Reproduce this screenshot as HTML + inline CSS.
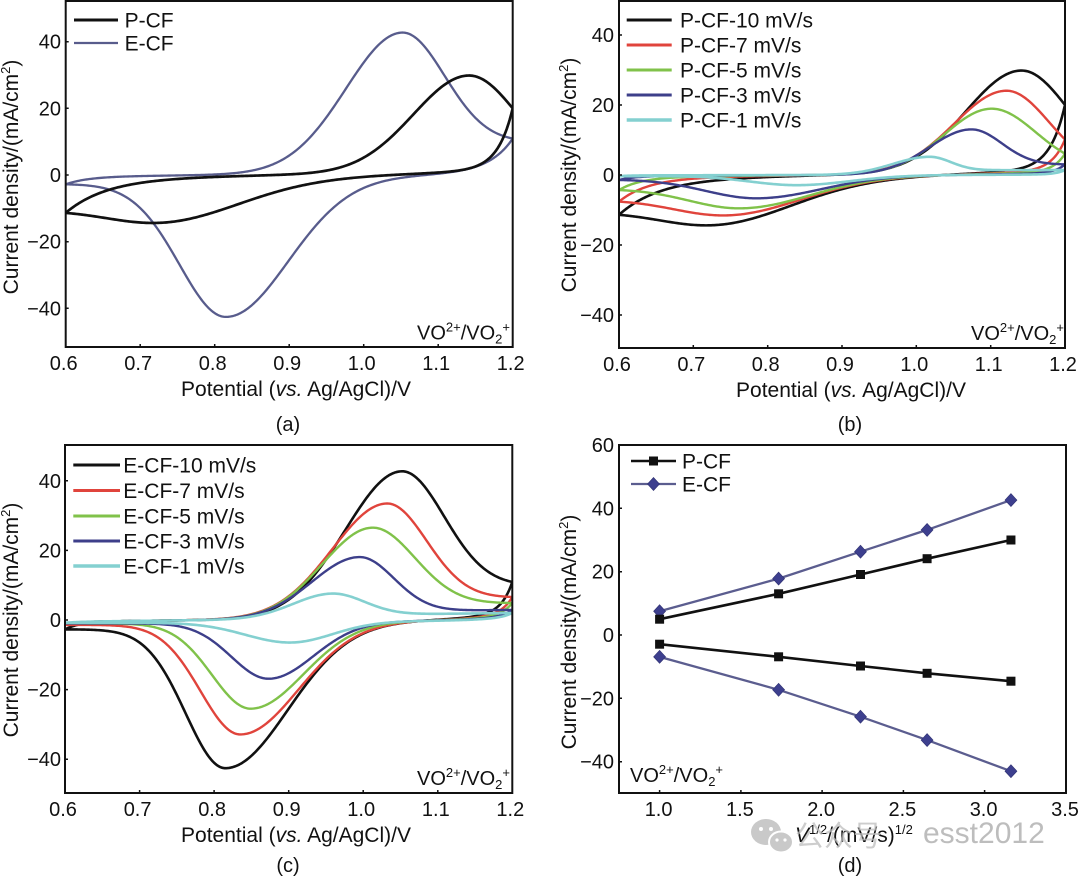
<!DOCTYPE html>
<html><head><meta charset="utf-8">
<style>
html,body{margin:0;padding:0;background:#fff;}
body{width:1080px;height:877px;overflow:hidden;}
svg{display:block;}
text{font-family:"Liberation Sans",Arial,sans-serif;fill:#111;}
</style></head>
<body>
<svg id="s" width="1080" height="877" viewBox="0 0 1080 877" xmlns="http://www.w3.org/2000/svg">
<defs>
<clipPath id="clA"><rect x="65.7" y="0" width="447" height="347"/></clipPath>
<clipPath id="clB"><rect x="619" y="0" width="446" height="348"/></clipPath>
<clipPath id="clC"><rect x="65" y="445" width="447.3" height="348"/></clipPath>
<rect id="sq" x="-4.5" y="-4.5" width="9" height="9" fill="#111"/>
<path id="dm" d="M0,-6.5 L6,0 L0,6.5 L-6,0Z" fill="#3d3f8e" stroke="#2e3070" stroke-width="0.6"/>
</defs>
<rect width="1080" height="877" fill="#fff"/>

<!-- ============ PANEL A ============ -->
<g clip-path="url(#clA)" fill="none" stroke-linejoin="round">
<path id="a1" stroke="#585c8c" stroke-width="2.3"/>
<path id="a0" stroke="#111" stroke-width="2.7"/>
</g>
<rect x="65.7" y="1" width="447" height="346" fill="none" stroke="#111" stroke-width="2"/>
<g stroke="#111" stroke-width="1.5">
<path d="M140.2,347v-3M214.7,347v-3M289.2,347v-3M363.7,347v-3M438.2,347v-3"/>
<path d="M65.7,41.7h3M65.7,108.3h3M65.7,175h3M65.7,241.7h3M65.7,308.3h3"/>
</g>
<g font-size="20" text-anchor="end">
<text x="61" y="48.7">40</text><text x="61" y="115.3">20</text><text x="61" y="182">0</text>
<text x="61" y="248.7">−20</text><text x="61" y="315.3">−40</text>
</g>
<g font-size="20" text-anchor="middle">
<text x="63.7" y="370">0.6</text><text x="138.2" y="370">0.7</text><text x="212.7" y="370">0.8</text>
<text x="287.2" y="370">0.9</text><text x="361.7" y="370">1.0</text><text x="436.2" y="370">1.1</text><text x="510.7" y="370">1.2</text>
</g>
<text x="296" y="396" font-size="21" text-anchor="middle">Potential (<tspan font-style="italic">vs.</tspan> Ag/AgCl)/V</text>
<text x="288" y="431" font-size="20" text-anchor="middle">(a)</text>
<text transform="translate(18,177) rotate(-90)" font-size="21" text-anchor="middle">Current density/(mA/cm<tspan dy="-8" font-size="13">2</tspan><tspan dy="8">)</tspan></text>
<line x1="74" y1="20" x2="118" y2="20" stroke="#111" stroke-width="3"/>
<line x1="74" y1="43" x2="118" y2="43" stroke="#585c8c" stroke-width="2.3"/>
<g font-size="21"><text x="124.6" y="27.5">P-CF</text><text x="124.6" y="50.5">E-CF</text></g>
<text x="510" y="339.5" font-size="20" text-anchor="end">VO<tspan dy="-8" font-size="13">2+</tspan><tspan dy="8">/VO</tspan><tspan dy="4" font-size="13">2</tspan><tspan dy="-12" font-size="13">+</tspan></text>

<!-- ============ PANEL B ============ -->
<g clip-path="url(#clB)" fill="none" stroke-linejoin="round">
<path id="b0" stroke="#111" stroke-width="2.6"/>
<path id="b1" stroke="#e0443c" stroke-width="2.4"/>
<path id="b2" stroke="#80c24a" stroke-width="2.4"/>
<path id="b3" stroke="#3d3f8a" stroke-width="2.4"/>
<path id="b4" stroke="#84d0d0" stroke-width="2.6"/>
</g>
<rect x="619" y="1" width="446" height="347" fill="none" stroke="#111" stroke-width="2"/>
<g stroke="#111" stroke-width="1.5">
<path d="M693.3,348v-3M767.7,348v-3M842,348v-3M916.3,348v-3M990.7,348v-3"/>
<path d="M619,35h3M619,105h3M619,175h3M619,245h3M619,315h3"/>
</g>
<g font-size="20" text-anchor="end">
<text x="614" y="42">40</text><text x="614" y="112">20</text><text x="614" y="182">0</text>
<text x="614" y="252">−20</text><text x="614" y="322">−40</text>
</g>
<g font-size="20" text-anchor="middle">
<text x="617" y="371">0.6</text><text x="691.3" y="371">0.7</text><text x="765.7" y="371">0.8</text>
<text x="840" y="371">0.9</text><text x="914.3" y="371">1.0</text><text x="988.7" y="371">1.1</text><text x="1063" y="371">1.2</text>
</g>
<text x="851" y="397" font-size="21" text-anchor="middle">Potential (<tspan font-style="italic">vs.</tspan> Ag/AgCl)/V</text>
<text x="850" y="431" font-size="20" text-anchor="middle">(b)</text>
<text transform="translate(576,175) rotate(-90)" font-size="21" text-anchor="middle">Current density/(mA/cm<tspan dy="-8" font-size="13">2</tspan><tspan dy="8">)</tspan></text>
<g stroke-width="3">
<line x1="626.7" y1="20" x2="671.7" y2="20" stroke="#111"/>
<line x1="626.7" y1="45" x2="671.7" y2="45" stroke="#e0443c"/>
<line x1="626.7" y1="70" x2="671.7" y2="70" stroke="#80c24a"/>
<line x1="626.7" y1="95" x2="671.7" y2="95" stroke="#3d3f8a"/>
<line x1="626.7" y1="120" x2="671.7" y2="120" stroke="#84d0d0" stroke-width="3.5"/>
</g>
<g font-size="21">
<text x="680" y="27.5">P-CF-10 mV/s</text><text x="680" y="52.5">P-CF-7 mV/s</text><text x="680" y="77.5">P-CF-5 mV/s</text>
<text x="680" y="102.5">P-CF-3 mV/s</text><text x="680" y="127.5">P-CF-1 mV/s</text>
</g>
<text x="1064" y="340" font-size="20" text-anchor="end">VO<tspan dy="-8" font-size="13">2+</tspan><tspan dy="8">/VO</tspan><tspan dy="4" font-size="13">2</tspan><tspan dy="-12" font-size="13">+</tspan></text>

<!-- ============ PANEL C ============ -->
<g clip-path="url(#clC)" fill="none" stroke-linejoin="round">
<path id="c0" stroke="#111" stroke-width="2.6"/>
<path id="c1" stroke="#e0443c" stroke-width="2.4"/>
<path id="c2" stroke="#80c24a" stroke-width="2.4"/>
<path id="c3" stroke="#3d3f8a" stroke-width="2.4"/>
<path id="c4" stroke="#84d0d0" stroke-width="2.6"/>
</g>
<rect x="65" y="445" width="447.3" height="348" fill="none" stroke="#111" stroke-width="2"/>
<g stroke="#111" stroke-width="1.5">
<path d="M139.6,793v-3M214.1,793v-3M288.7,793v-3M363.2,793v-3M437.8,793v-3"/>
<path d="M65,480.8h3M65,550.4h3M65,620h3M65,689.6h3M65,759.2h3"/>
</g>
<g font-size="20" text-anchor="end">
<text x="61" y="487.8">40</text><text x="61" y="557.4">20</text><text x="61" y="627">0</text>
<text x="61" y="696.6">−20</text><text x="61" y="766.2">−40</text>
</g>
<g font-size="20" text-anchor="middle">
<text x="63" y="816">0.6</text><text x="137.6" y="816">0.7</text><text x="212.1" y="816">0.8</text>
<text x="286.7" y="816">0.9</text><text x="361.2" y="816">1.0</text><text x="435.8" y="816">1.1</text><text x="510.3" y="816">1.2</text>
</g>
<text x="296" y="842" font-size="21" text-anchor="middle">Potential (<tspan font-style="italic">vs.</tspan> Ag/AgCl)/V</text>
<text x="288" y="872" font-size="20" text-anchor="middle">(c)</text>
<text transform="translate(18,620) rotate(-90)" font-size="21" text-anchor="middle">Current density/(mA/cm<tspan dy="-8" font-size="13">2</tspan><tspan dy="8">)</tspan></text>
<g stroke-width="3">
<line x1="73.3" y1="465" x2="120" y2="465" stroke="#111"/>
<line x1="73.3" y1="490.5" x2="120" y2="490.5" stroke="#e0443c"/>
<line x1="73.3" y1="516" x2="120" y2="516" stroke="#80c24a"/>
<line x1="73.3" y1="541" x2="120" y2="541" stroke="#3d3f8a"/>
<line x1="73.3" y1="566" x2="120" y2="566" stroke="#84d0d0" stroke-width="3.5"/>
</g>
<g font-size="21">
<text x="123.3" y="472.5">E-CF-10 mV/s</text><text x="123.3" y="498">E-CF-7 mV/s</text><text x="123.3" y="523.5">E-CF-5 mV/s</text>
<text x="123.3" y="548.5">E-CF-3 mV/s</text><text x="123.3" y="573.5">E-CF-1 mV/s</text>
</g>
<text x="510" y="785" font-size="20" text-anchor="end">VO<tspan dy="-8" font-size="13">2+</tspan><tspan dy="8">/VO</tspan><tspan dy="4" font-size="13">2</tspan><tspan dy="-12" font-size="13">+</tspan></text>

<!-- ============ PANEL D ============ -->
<g fill="none" stroke-linejoin="round">
<polyline points="659.6,611.25 778.6,578.6 860.5,551.7 927.1,529.9 1010.95,500.1" stroke="#5b5d8f" stroke-width="2.3"/>
<polyline points="659.6,656.85 778.6,689.8 860.5,716.7 927.1,740.1 1010.95,771.2" stroke="#5b5d8f" stroke-width="2.3"/>
<polyline points="659.6,619.2 778.6,593.8 860.5,574.5 927.1,558.7 1010.95,540" stroke="#111" stroke-width="2.6"/>
<polyline points="659.6,644.2 778.6,656.8 860.5,666 927.1,673.3 1010.95,681.2" stroke="#111" stroke-width="2.6"/>
</g>
<use href="#dm" x="659.6" y="611.25"/><use href="#dm" x="778.6" y="578.6"/><use href="#dm" x="860.5" y="551.7"/><use href="#dm" x="927.1" y="529.9"/><use href="#dm" x="1010.95" y="500.1"/>
<use href="#dm" x="659.6" y="656.85"/><use href="#dm" x="778.6" y="689.8"/><use href="#dm" x="860.5" y="716.7"/><use href="#dm" x="927.1" y="740.1"/><use href="#dm" x="1010.95" y="771.2"/>
<use href="#sq" x="659.6" y="619.2"/><use href="#sq" x="778.6" y="593.8"/><use href="#sq" x="860.5" y="574.5"/><use href="#sq" x="927.1" y="558.7"/><use href="#sq" x="1010.95" y="540"/>
<use href="#sq" x="659.6" y="644.2"/><use href="#sq" x="778.6" y="656.8"/><use href="#sq" x="860.5" y="666"/><use href="#sq" x="927.1" y="673.3"/><use href="#sq" x="1010.95" y="681.2"/>
<rect x="619" y="445" width="447" height="348" fill="none" stroke="#111" stroke-width="2"/>
<g stroke="#111" stroke-width="1.5">
<path d="M659.6,793v-3M740.9,793v-3M822.1,793v-3M903.4,793v-3M984.6,793v-3"/>
<path d="M619,508.3h3M619,571.7h3M619,635h3M619,698.3h3M619,761.7h3"/>
</g>
<g font-size="20" text-anchor="end">
<text x="614" y="452">60</text><text x="614" y="515.3">40</text><text x="614" y="578.7">20</text><text x="614" y="642">0</text>
<text x="614" y="705.3">−20</text><text x="614" y="768.7">−40</text>
</g>
<g font-size="20" text-anchor="middle">
<text x="658.6" y="816">1.0</text><text x="739.9" y="816">1.5</text><text x="821.1" y="816">2.0</text>
<text x="902.4" y="816">2.5</text><text x="983.6" y="816">3.0</text><text x="1065" y="816">3.5</text>
</g>
<text transform="translate(576,632) rotate(-90)" font-size="21" text-anchor="middle">Current density/(mA/cm<tspan dy="-8" font-size="13">2</tspan><tspan dy="8">)</tspan></text>
<line x1="631" y1="461" x2="676" y2="461" stroke="#111" stroke-width="2.6"/>
<use href="#sq" x="653.5" y="461"/>
<line x1="631" y1="484" x2="676" y2="484" stroke="#5b5d8f" stroke-width="2.3"/>
<use href="#dm" x="653.5" y="484"/>
<g font-size="21"><text x="682" y="468.5">P-CF</text><text x="682" y="491.5">E-CF</text></g>
<text x="630" y="782" font-size="20">VO<tspan dy="-8" font-size="13">2+</tspan><tspan dy="8">/VO</tspan><tspan dy="4" font-size="13">2</tspan><tspan dy="-12" font-size="13">+</tspan></text>
<text x="795" y="842" font-size="21"><tspan font-style="italic">V</tspan><tspan dy="-8" font-size="13">1/2</tspan><tspan dy="8">/(mV/s)</tspan><tspan dy="-8" font-size="13">1/2</tspan></text>
<text x="850" y="872" font-size="20" text-anchor="middle">(d)</text>

<!-- watermark -->
<g opacity="0.75">
<ellipse cx="766" cy="832" rx="15" ry="13" fill="#b8b8b8"/>
<ellipse cx="781" cy="842" rx="12" ry="10.5" fill="#b8b8b8" stroke="#fff" stroke-width="2"/>
<circle cx="761" cy="829" r="2" fill="#fff"/><circle cx="771" cy="829" r="2" fill="#fff"/>
<circle cx="777" cy="840" r="1.6" fill="#fff"/><circle cx="785" cy="840" r="1.6" fill="#fff"/>
<text x="795" y="846" font-size="29" style="font-family:'Liberation Sans','Noto Sans CJK SC',sans-serif;fill:#bdbdbd">公众号</text>
<text x="923" y="843" font-size="30" style="fill:#a8a8a8">esst2012</text>
</g>
</svg>
<script>
(function(){
const K=[1,.7,.5,.3,.1];
const P={Ea:[1.141,1.121,1.101,1.074,1.018],Ia:[28.8,23.4,18.5,12.8,5.15],waL:[.105,.099,.09,.08,.07],waR:[.09,.082,.085,.058,.04],ta:[0,0,.05,.2,.25],
Ec:[.725,.745,.765,.787,.84],Ic:[-12,-10,-8.5,-6.1,-2.76],wcL:[.1,.1,.1,.1,.09],tc:[.58,.46,.26,.04,0],wcR:[.15,.14,.13,.12,.1],
tauA:[.055,.04,.03,.02,.015],tauC:[.02,.018,.016,.014,.012]};
P.ba=i=>v=>K[i]*(v-.88)*4; P.bc=i=>v=>K[i]*(v-1.02)*8;
const E={Ea:[1.052,1.032,1.0125,.995,.959],Ia:[42.1,32.9,26,17.6,7.2],waL:[.107,.104,.095,.09,.075],waR:[.08,.075,.08,.065,.06],ta:[.21,.165,.146,.108,.14],
Ec:[.815,.835,.849,.873,.902],Ic:[-42.1,-32.4,-25,-16.4,-6],wcL:[.075,.075,.073,.07,.085],tc:[.052,.028,.02,.03,.05],wcR:[.118,.11,.1,.085,.08],
tauA:[.02,.02,.02,.02,.02],tauC:[.015,.015,.015,.015,.015]};
E.ba=i=>v=>-.5+(v-.6)*2.5; E.bc=i=>v=>-.5+2.4*(.4+.6*K[i])*Math.exp((v-1.2)/.08);
const EA=Object.assign({},E,{wcL:[.088],tauC:[.03],tauA:[.03]});
function sh(v,E0,wl,wr,tl,tr){const d=v-E0;return d<0?tl+(1-tl)*Math.exp(-(d*d)/(wl*wl)):tr+(1-tr)*Math.exp(-(d*d)/(wr*wr));}
function curve(S,i){
 const ba=S.ba(i), bc=S.bc(i);
 const an=v=>ba(v)+S.Ia[i]*sh(v,S.Ea[i],S.waL[i],S.waR[i],0,S.ta[i]);
 const ca=v=>bc(v)+S.Ic[i]*sh(v,S.Ec[i],S.wcL[i],S.wcR[i],S.tc[i],0);
 const c0=ca(.6), a0=an(.6);
 const A=v=>an(v)+(c0-a0)*Math.exp(-(v-.6)/S.tauA[i]);
 const a1=A(1.2), c1=ca(1.2);
 const C=v=>ca(v)+(a1-c1)*Math.exp(-(1.2-v)/S.tauC[i]);
 const pts=[];
 for(let n=0;n<=300;n++){const v=.6+n*.002;pts.push([v,A(v)]);}
 for(let n=300;n>=0;n--){const v=.6+n*.002;pts.push([v,C(v)]);}
 return pts;
}
function draw(id,pts,X,Y){
 document.getElementById(id).setAttribute('d',pts.map((p,j)=>(j?'L':'M')+X(p[0]).toFixed(2)+','+Y(p[1]).toFixed(2)).join(''));
}
const XA=v=>65.7+(v-.6)*745, YA=i=>175-i*3.333;
const XB=v=>619+(v-.6)*743.3, YB=i=>175-i*3.5;
const XC=v=>65+(v-.6)*745.5, YC=i=>620-i*3.48;
draw('a0',curve(P,0),XA,YA);
draw('a1',curve(EA,0),XA,YA);
for(let i=0;i<5;i++){draw('b'+i,curve(P,i),XB,YB);draw('c'+i,curve(E,i),XC,YC);}
})();
</script>
</body></html>
